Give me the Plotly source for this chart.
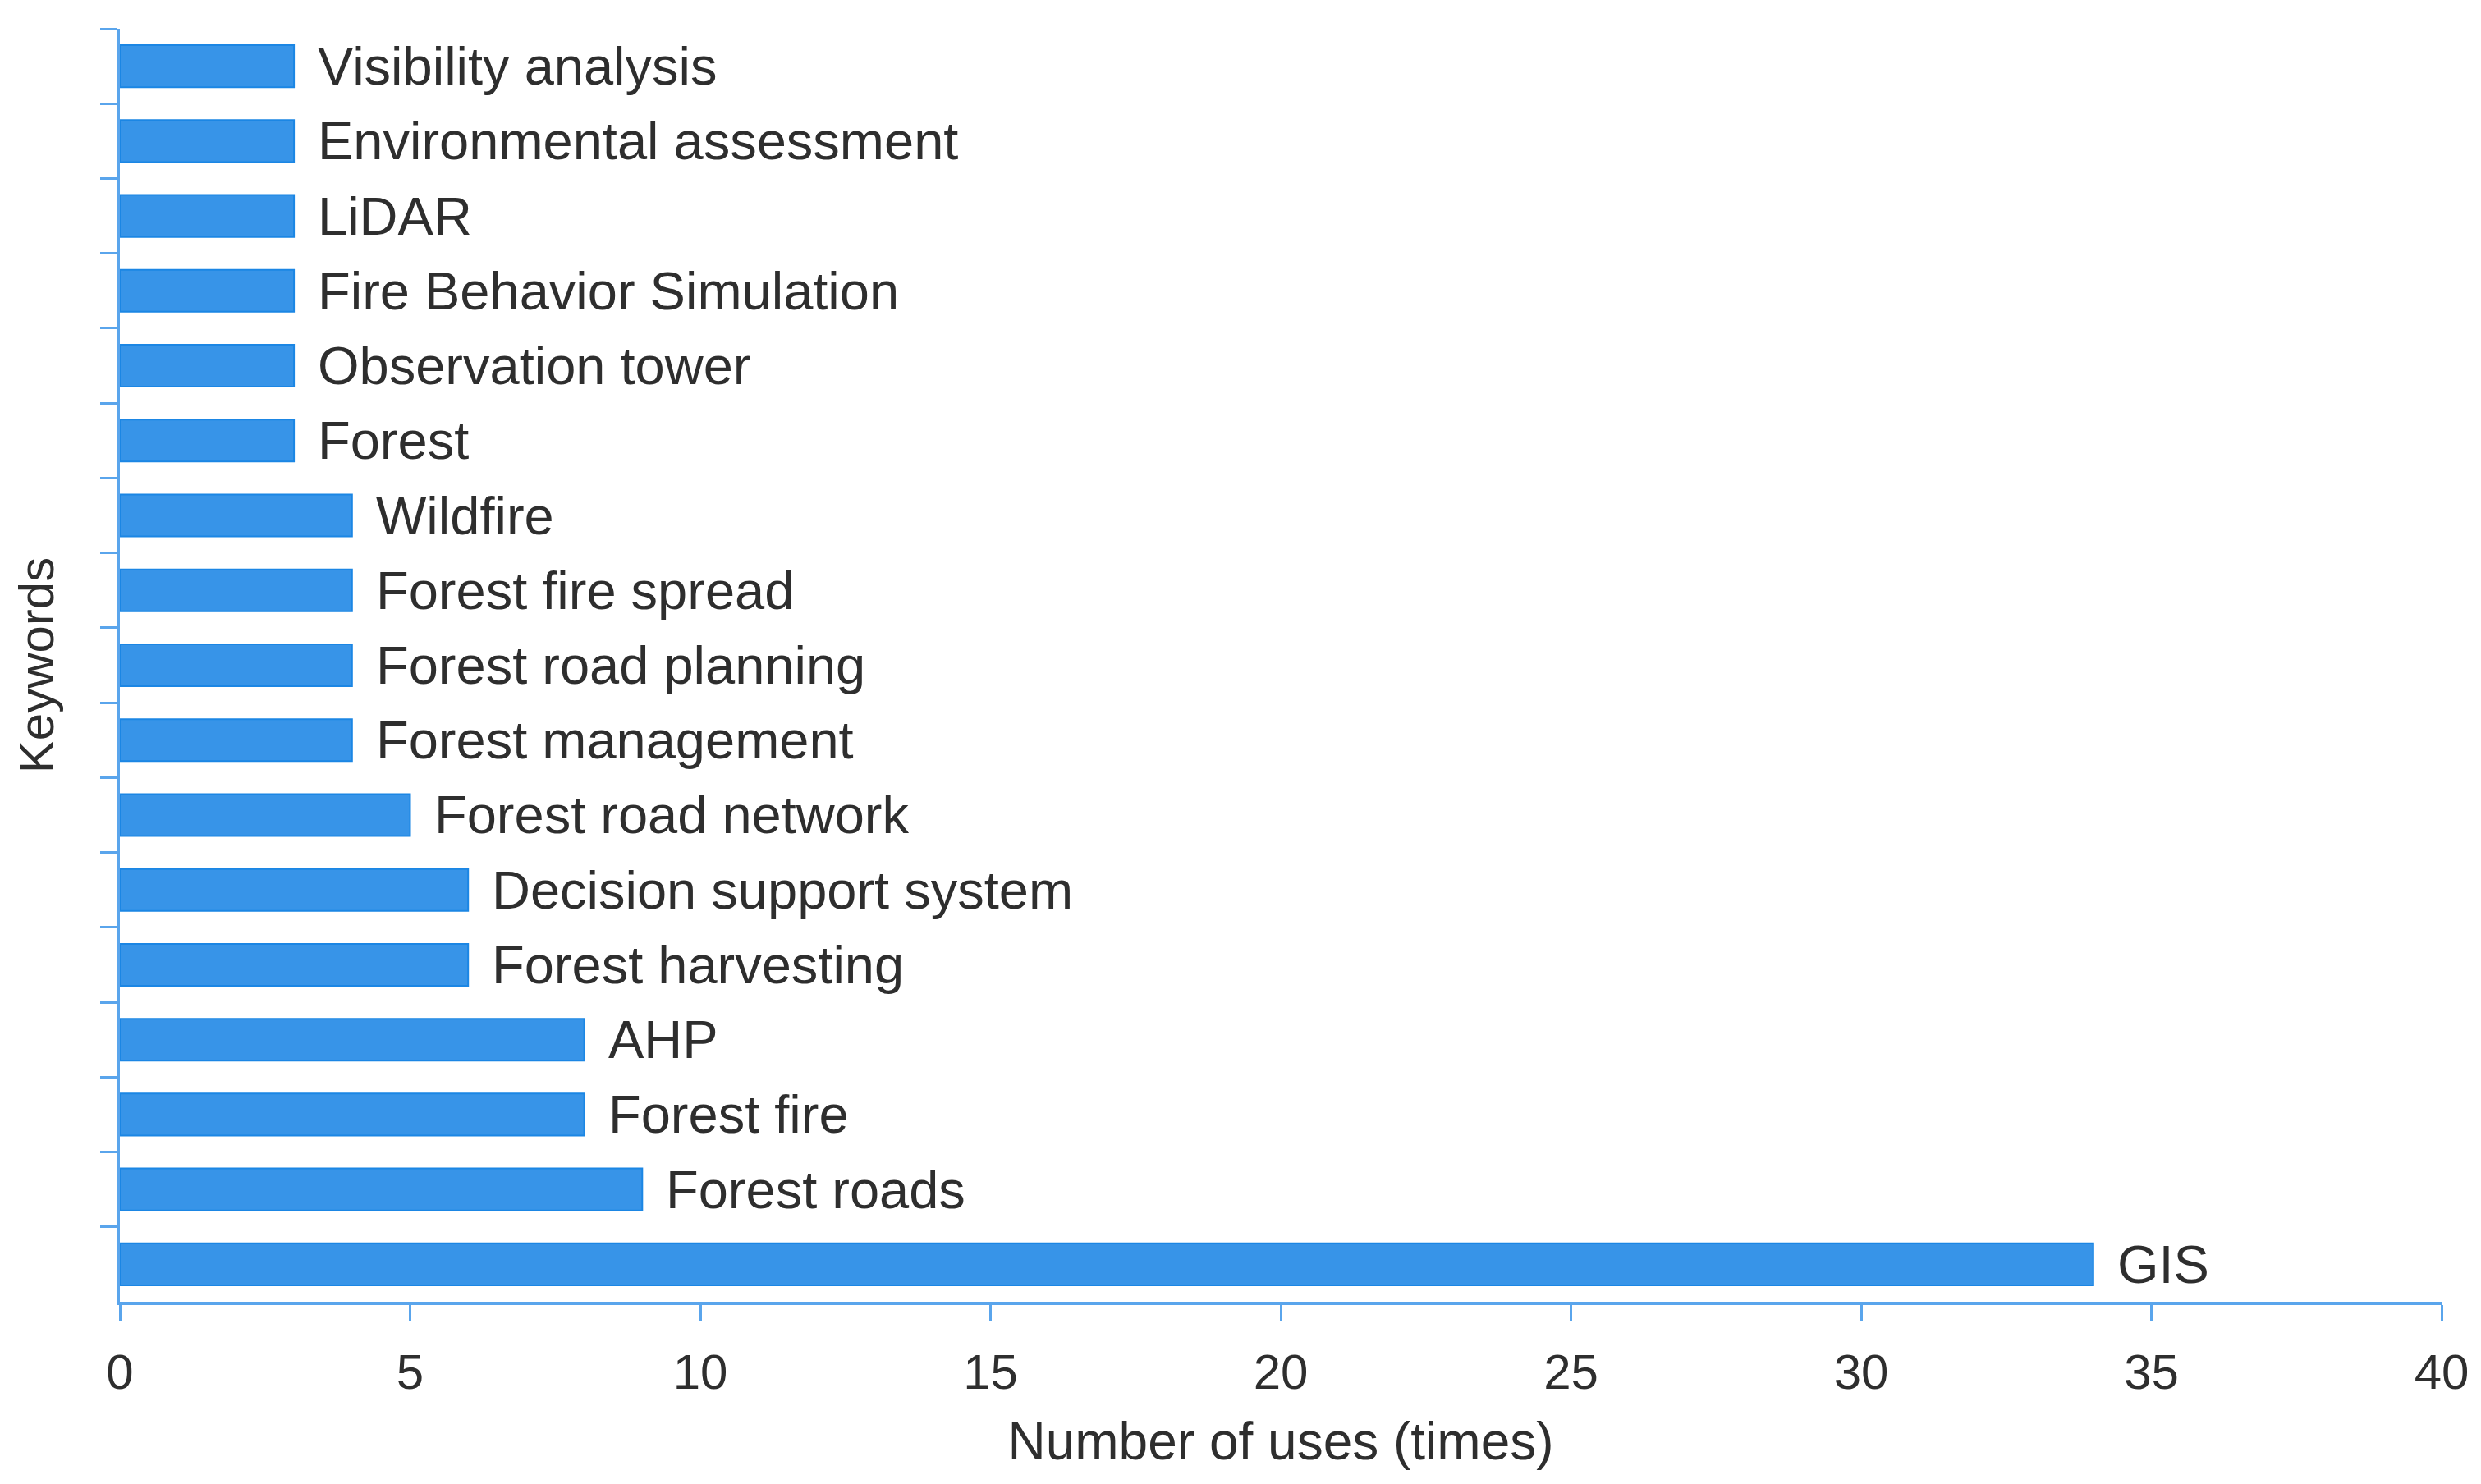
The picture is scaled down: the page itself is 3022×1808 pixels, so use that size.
import plotly.graph_objects as go

categories = ["Visibility analysis", "Environmental assessment", "LiDAR", "Fire Behavior Simulation",
              "Observation tower", "Forest", "Wildfire", "Forest fire spread", "Forest road planning",
              "Forest management", "Forest road network", "Decision support system", "Forest harvesting",
              "AHP", "Forest fire", "Forest roads", "GIS"]
values = [3, 3, 3, 3, 3, 3, 4, 4, 4, 4, 5, 6, 6, 8, 8, 9, 34]
x_ticks = [0, 5, 10, 15, 20, 25, 30, 35, 40]

FONT = "Liberation Sans, Arial, sans-serif"
TXT = "#2e2e2e"
AX = "#5AA5EC"

fig = go.Figure()
fig.add_trace(go.Bar(
    x=values, y=categories, orientation="h",
    marker=dict(color="#3794E8", line=dict(color="#1B86E4", width=2)),
    width=0.56, hoverinfo="x+y",
))

for c, v in zip(categories, values):
    fig.add_annotation(x=v, y=c, text=c, showarrow=False, xanchor="left", yanchor="middle",
                       xshift=27, font=dict(family=FONT, size=65, color=TXT))

fig.update_layout(
    width=3022, height=1808,
    margin=dict(l=146, r=48, t=35, b=222),
    paper_bgcolor="white", plot_bgcolor="white",
    showlegend=False,
    font=dict(family=FONT, color=TXT),
)
fig.update_xaxes(
    range=[0, 40], tickvals=x_ticks, ticktext=[str(t) for t in x_ticks],
    showgrid=False, zeroline=False,
    showline=True, linecolor=AX, linewidth=4,
    ticks="outside", ticklen=20, tickwidth=3, tickcolor=AX,
    tickfont=dict(family=FONT, size=60, color=TXT), ticklabelstandoff=10,
    title=dict(text="Number of uses (times)", font=dict(family=FONT, size=64, color=TXT), standoff=30),
)
fig.update_yaxes(
    categoryorder="array", categoryarray=categories, autorange="reversed",
    showticklabels=False, showgrid=False, zeroline=False,
    showline=True, linecolor=AX, linewidth=4,
    ticks="outside", ticklen=20, tickwidth=3, tickcolor=AX, tickson="boundaries",
    title=dict(text="Keywords", font=dict(family=FONT, size=60, color=TXT), standoff=58),
)

fig.write_html("out.html")
